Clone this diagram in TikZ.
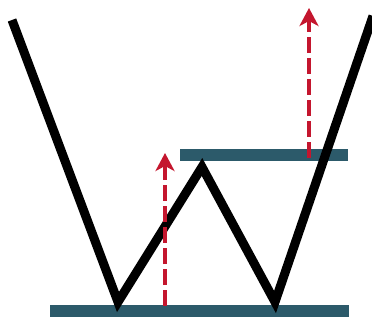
\documentclass[tikz,border=0pt]{standalone}
\usetikzlibrary{arrows.meta}
\definecolor{barteal}{HTML}{2C5A6A}
\definecolor{arrowred}{HTML}{C4162E}
\tikzset{
  wline/.style={line width=9pt, black, line join=miter, miter limit=20},
  bar/.style={line width=12pt, barteal},
  uparrow/.style={line width=4.5pt, arrowred, dash pattern=on 16pt off 5pt,
     -{Stealth[length=18pt,width=19pt,inset=5pt]}}
}
\begin{document}
\begin{tikzpicture}[x=1pt,y=-1pt]
\useasboundingbox (0,0) rectangle (372,323);
% bars
\coordinate (b1l) at (50,311);
\coordinate (b1r) at (349,311);
\coordinate (b2l) at (180,155);
\coordinate (b2r) at (348,155);
\draw[bar] (b1l) -- (b1r);
\draw[bar] (b2l) -- (b2r);
% W
\coordinate (w1) at (12,20);
\coordinate (w2) at (118,302);
\coordinate (w3) at (202,167);
\coordinate (w4) at (275,302);
\coordinate (w5) at (373,16);
\draw[wline] (w1) -- (w2) -- (w3) -- (w4) -- (w5);
% arrows
\coordinate (a1s) at (165,306);
\coordinate (a1e) at (165,153);
\coordinate (a2s) at (309,158);
\coordinate (a2e) at (309,8);
\draw[uparrow] (a1s) -- (a1e);
\draw[uparrow] (a2s) -- (a2e);
\end{tikzpicture}
\end{document}
